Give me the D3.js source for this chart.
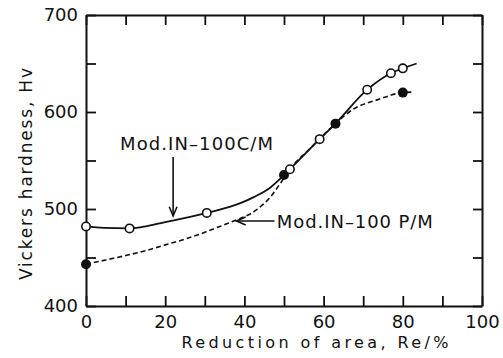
<!DOCTYPE html>
<html>
<head>
<meta charset="utf-8">
<script src="https://cdn.jsdelivr.net/npm/d3@7"></script>
<style>
  body { margin: 0; background: #fff; }
  text { font-family: "DejaVu Sans", sans-serif; fill: #111; }
</style>
</head>
<body>
<div id="chart"></div>
<script>

// measured markers (Reduction of area %, Hv)
var cmPoints = [[0, 482], [11, 480], [30.5, 496], [51.5, 541], [59, 572], [71, 623], [77, 640], [80, 645]];
var pmPoints = [[0, 443], [50, 535], [63, 588], [80, 620]];

// fitted curves
var cmCurve = [[0, 482], [4.5, 480.5], [11, 480], [20, 486.5], [30.5, 496], [39, 506], [42.5, 512.5],
    [46.5, 522], [49.5, 533], [51.5, 541], [59, 572], [63, 588], [71, 623], [77, 640], [80, 645], [83.5, 650]];
var pmCurve = [[0, 443], [5, 447.5], [10, 452], [15, 457], [20, 463], [25, 469], [30, 476], [32.5, 480],
    [37, 487], [43, 499], [46.5, 512], [49, 526], [51.5, 541], [56.5, 562], [63, 588], [67.5, 603], [73.5, 612.5],
    [80, 620], [82.5, 620.5]];

var xTicks = [0, 10, 20, 30, 40, 50, 60, 70, 80, 90, 100];
var yTicks = [400, 450, 500, 550, 600, 650, 700];

var svgWidth = 503;
var svgHeight = 358;

var margins = { top: 15, right: 21, bottom: 52, left: 86 };

var width = svgWidth - margins.left - margins.right;
var height = svgHeight - margins.top - margins.bottom;

var svg = d3.select('#chart')
    .append('svg')
    .attr('width', svgWidth)
    .attr('height', svgHeight);

var chartGroup = svg.append('g')
    .attr('transform', `translate(${margins.left},${margins.top})`);

var xScale = d3.scaleLinear().domain([0, 100]).range([0, width]);
var yScale = d3.scaleLinear().domain([400, 700]).range([height, 0]);

// axes with inward ticks on all four sides
var bottomAxis = d3.axisBottom(xScale).tickValues(xTicks).tickSize(-10).tickSizeOuter(0)
    .tickPadding(9).tickFormat(d => d % 20 === 0 ? d : '');
var topAxis = d3.axisTop(xScale).tickValues(xTicks).tickSize(-10).tickSizeOuter(0).tickFormat('');
var leftAxis = d3.axisLeft(yScale).tickValues(yTicks).tickSize(-10).tickSizeOuter(0)
    .tickPadding(8).tickFormat(d => d % 100 === 0 ? d : '');
var rightAxis = d3.axisRight(yScale).tickValues(yTicks).tickSize(-9).tickSizeOuter(0).tickFormat('');

chartGroup.append('g').attr('transform', `translate(0,${height})`).call(bottomAxis);
chartGroup.append('g').call(topAxis);
chartGroup.append('g').call(leftAxis);
chartGroup.append('g').attr('transform', `translate(${width},0)`).call(rightAxis);

chartGroup.selectAll('.domain').attr('stroke', '#111').attr('stroke-width', 2);
chartGroup.selectAll('.tick line').attr('stroke', '#111').attr('stroke-width', 1.8);
chartGroup.selectAll('.tick text').attr('font-size', 18).attr('fill', '#111');

// curves
var line = d3.line()
    .x(d => xScale(d[0]))
    .y(d => yScale(d[1]))
    .curve(d3.curveMonotoneX);

chartGroup.append('path')
    .attr('d', line(pmCurve))
    .attr('fill', 'none')
    .attr('stroke', '#111')
    .attr('stroke-width', 1.6)
    .attr('stroke-dasharray', '5,3');

chartGroup.append('path')
    .attr('d', line(cmCurve))
    .attr('fill', 'none')
    .attr('stroke', '#111')
    .attr('stroke-width', 1.8);

// markers
chartGroup.selectAll('.pm')
    .data(pmPoints)
    .enter()
    .append('circle')
    .attr('cx', d => xScale(d[0]))
    .attr('cy', d => yScale(d[1]))
    .attr('r', 5)
    .attr('fill', '#111');

chartGroup.selectAll('.cm')
    .data(cmPoints)
    .enter()
    .append('circle')
    .attr('cx', d => xScale(d[0]))
    .attr('cy', d => yScale(d[1]))
    .attr('r', 4.2)
    .attr('fill', '#fff')
    .attr('stroke', '#111')
    .attr('stroke-width', 1.6);

// annotations
function arrow(x1, y1, x2, y2) {
    var ang = Math.atan2(y2 - y1, x2 - x1);
    var len = 10, spread = 0.4;
    var g = chartGroup.append('g').attr('stroke', '#111').attr('stroke-width', 1.6).attr('fill', 'none');
    g.append('line').attr('x1', x1).attr('y1', y1).attr('x2', x2).attr('y2', y2);
    g.append('path')
        .attr('d', `M${x2 - len * Math.cos(ang - spread)},${y2 - len * Math.sin(ang - spread)}` +
            `L${x2},${y2}L${x2 - len * Math.cos(ang + spread)},${y2 - len * Math.sin(ang + spread)}`);
}

// C/M label and arrow
chartGroup.append('text')
    .attr('x', xScale(8.6))
    .attr('y', 135)
    .attr('font-size', 18)
    .attr('textLength', 153)
    .text('Mod.IN–100C/M');
arrow(xScale(22.0), 142, xScale(22.0), 201);

// P/M label and arrow
chartGroup.append('text')
    .attr('x', xScale(48.2))
    .attr('y', 213)
    .attr('font-size', 18)
    .attr('textLength', 156)
    .text('Mod.IN–100 P/M');
arrow(xScale(47.6), 206, xScale(38.0), 206);

// axis titles
svg.append('text')
    .attr('x', 315)
    .attr('y', 348)
    .attr('text-anchor', 'middle')
    .attr('font-size', 16)
    .attr('textLength', 267)
    .text('Reduction of area, Re/%');

svg.append('text')
    .attr('transform', 'translate(32,174) rotate(-90)')
    .attr('text-anchor', 'middle')
    .attr('font-size', 17)
    .attr('textLength', 212)
    .text('Vickers hardness, Hv');

</script>
</body>
</html>
